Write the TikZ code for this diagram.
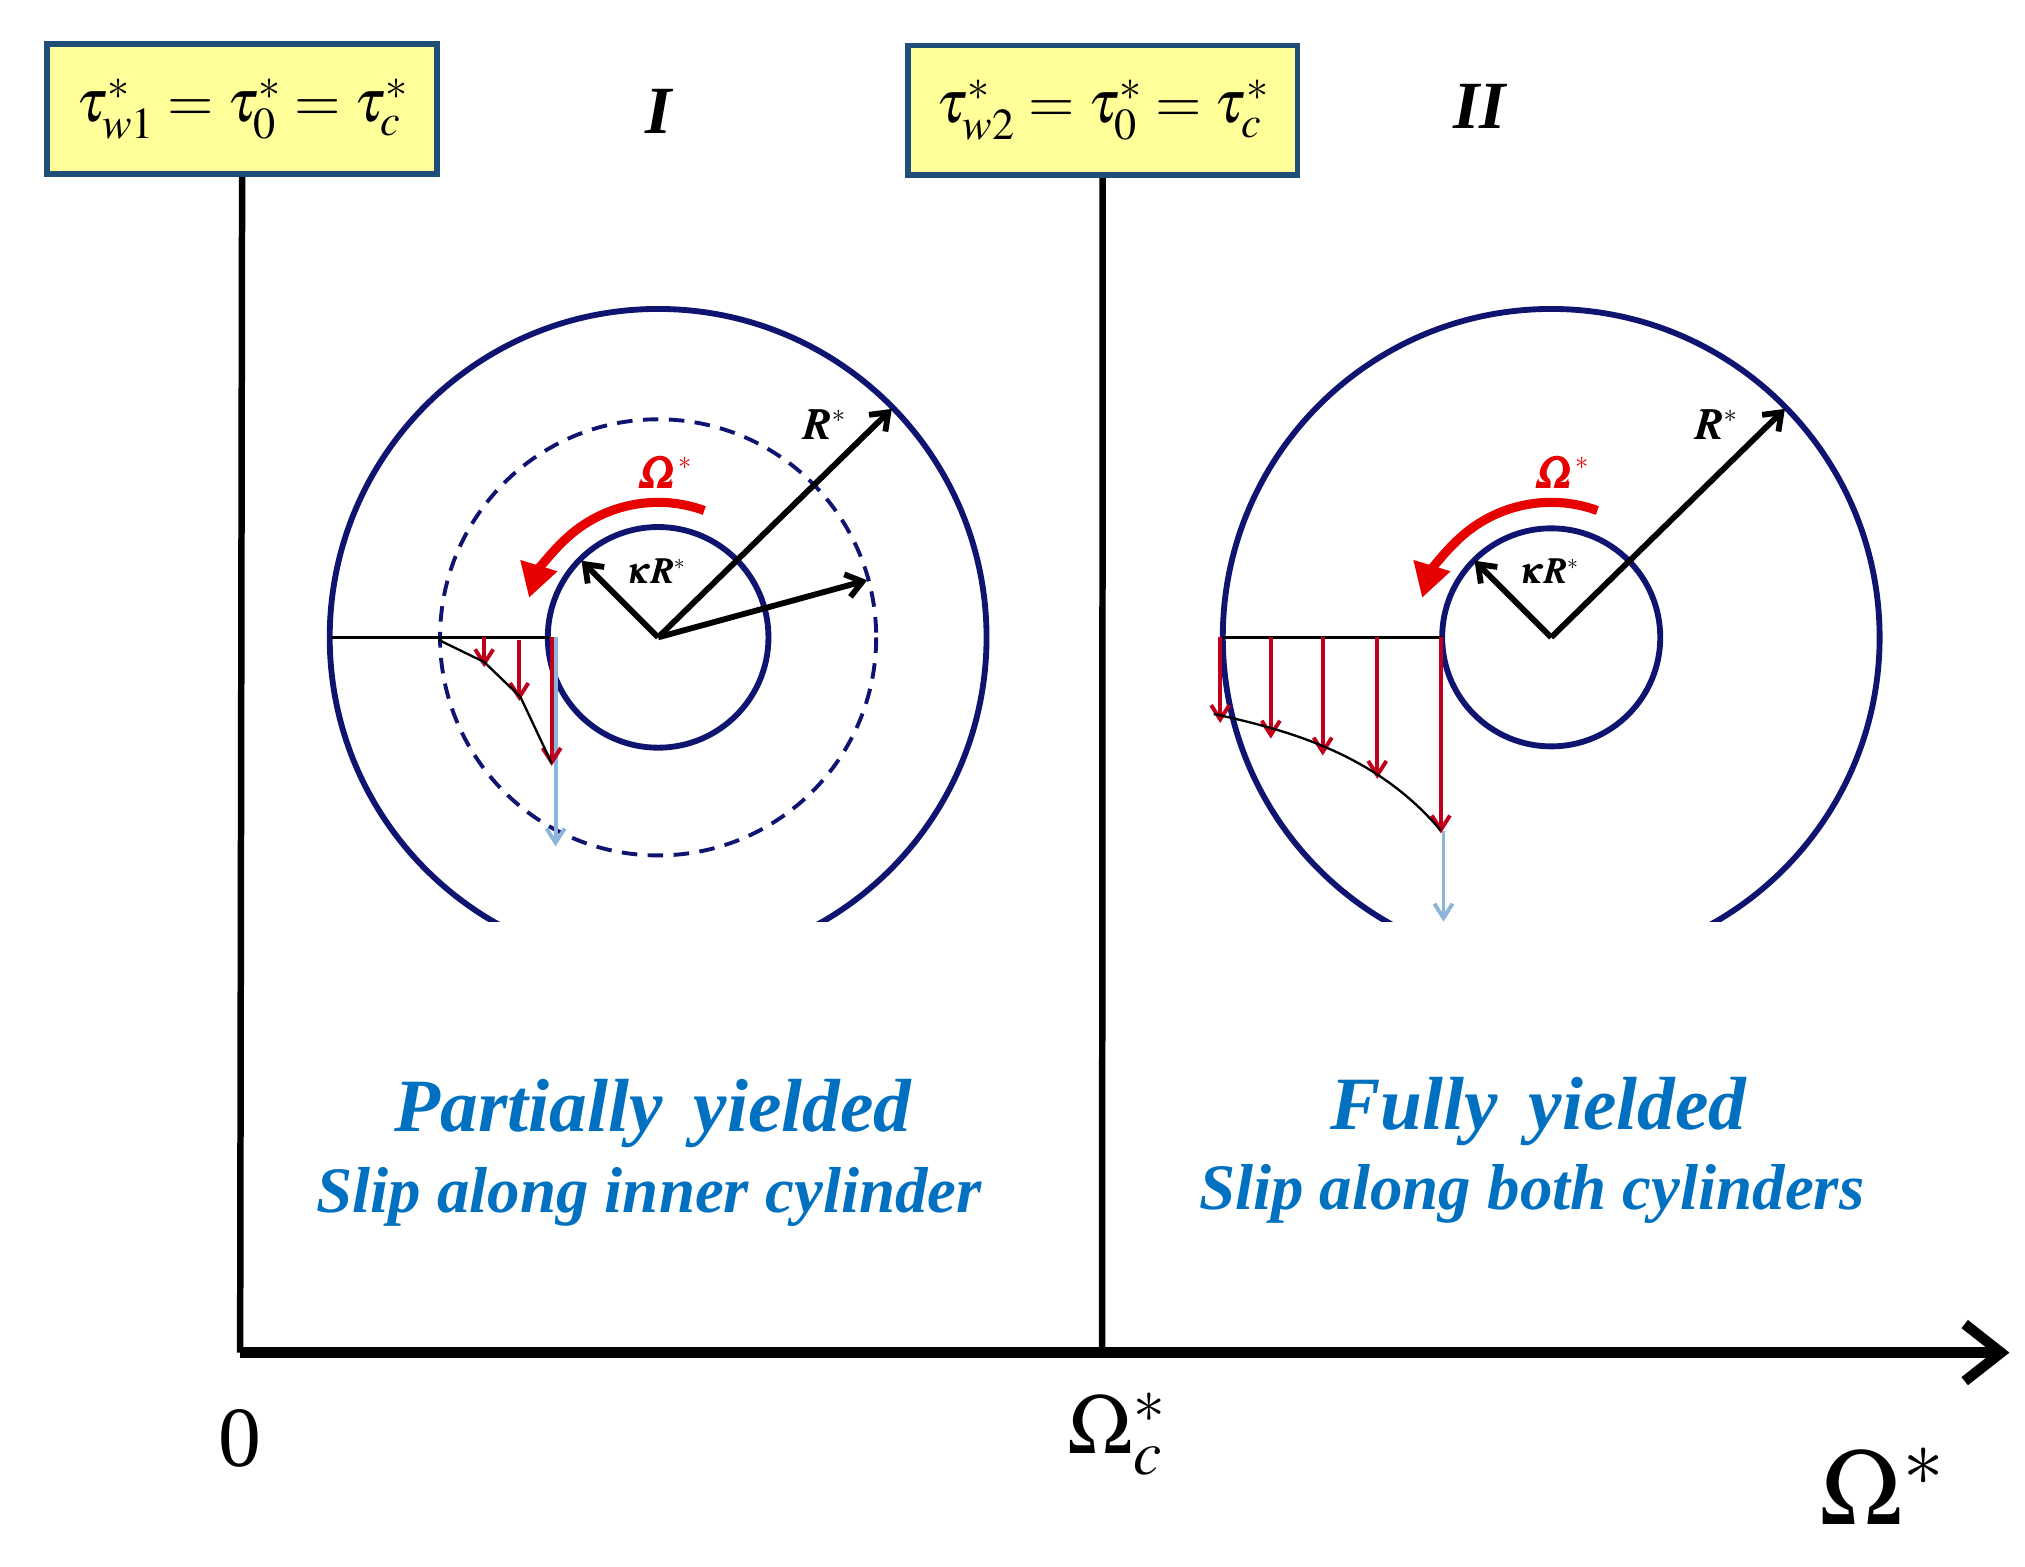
\documentclass[tikz,border=0pt]{standalone}
\usepackage{amsmath}
\usepackage{mathptmx}
\usepackage{bm}
\usepackage{fontspec}
\setmainfont{Liberation Serif}
\usetikzlibrary{arrows.meta}
\definecolor{navy}{HTML}{0F1470}
\definecolor{bxb}{HTML}{1F4E79}
\definecolor{bxf}{HTML}{FFFF99}
\definecolor{prf}{HTML}{C0001A}
\definecolor{omr}{HTML}{E60000}
\definecolor{lbl}{HTML}{8DB4DA}
\definecolor{txb}{HTML}{0070C0}
\begin{document}
\begin{tikzpicture}[x=1pt,y=-1pt,
 ring/.style={navy,line width=4.5pt},
 prof/.style={prf,line width=3pt,-{Straight Barb[length=11pt,width=14pt]}},
 blk/.style={black,line width=4.5pt,-{Straight Barb[length=12pt,width=18pt]}},
 box/.style={draw=bxb,fill=bxf,line width=4.5pt,minimum width=300pt,minimum height=100pt,inner sep=0pt,font=\fontsize{46}{46}\selectfont},
 big/.style={font=\fontsize{58}{58}\selectfont\bfseries\itshape,text=txb},
 sub/.style={font=\fontsize{50}{50}\selectfont\bfseries\itshape,text=txb},
 lab/.style={font=\fontsize{34}{34}\selectfont\itshape\bfseries}]
\useasboundingbox (0,0) rectangle (1560,1207);
% axes
\coordinate (o) at (185,1042);
\coordinate (e) at (1548,1042);
\coordinate (c1) at (849,1042);
\draw[line width=8pt,-{Straight Barb[length=28pt,width=44pt]}] (o) -- (e);
\node[box] (b1) at (186.5,84) {$\tau^*_{w1}=\tau^*_0=\tau^*_c$};
\node[box] (b2) at (849.5,85) {$\tau^*_{w2}=\tau^*_0=\tau^*_c$};
\draw[line width=5pt] (b1.south) -- (o);
\draw[line width=5pt] (b2.south) -- (c1);
\node[font=\fontsize{52}{52}\selectfont\bfseries\itshape] (r1) at (507,86) {I};
\node[font=\fontsize{52}{52}\selectfont\bfseries\itshape] (r2) at (1140,82) {II};
\node[font=\fontsize{66}{66}\selectfont] (zero) at (185,1108) {0};
\node[font=\fontsize{66}{66}\selectfont] (omc) at (860,1105) {$\Omega^*_c$};
\node[font=\fontsize{84}{84}\selectfont] (oms) at (1450,1145) {$\Omega^*$};
\node[big] (t1) at (503,858) {Partially\, yielded};
\node[sub] (s1) at (500,922) {Slip along inner cylinder};
\node[big] (t2) at (1185,856) {Fully\, yielded};
\node[sub] (s2) at (1180,920) {Slip along both cylinders};
% ---------- left
\coordinate (A) at (507,491);
\begin{scope}
\clip (0,0) rectangle (1560,710);
\draw[ring] (A) circle (253);
\end{scope}
\draw[ring] (A) circle (85);
\draw[navy,line width=3pt,dash pattern=on 12pt off 8pt] (A) circle (168);
\draw[line width=1.8pt] (255,491) -- (423,491);
\draw[lbl,line width=3pt,-{Straight Barb[length=11pt,width=14pt]}] (428,491) -- (428,652);
\draw[prof] (373,491) -- (373,514);
\draw[prof] (400,493) -- (400,540);
\draw[prof] (425,491) -- (425,590);
\draw[line width=1.8pt] (338,493) -- (373,510) -- (401,537) -- (425,588);
\coordinate (AR) at (687,315);
\coordinate (Ak) at (448,432);
\coordinate (Ad) at (668,447);
\draw[blk] (A) -- (AR);
\draw[blk] (A) -- (Ak);
\draw[blk] (A) -- (Ad);
\draw[omr,line width=7pt,-{Triangle[length=26pt,width=28pt]}] ([shift={(-70:104)}]A) arc[start angle=-70,end angle=-163,radius=104];
\node[lab] (lR1) at (635,327) {$\bm{R}^{\scriptscriptstyle *}$};
\node[lab,text=omr] (lO1) at (512,364) {$\bm{\varOmega}^{\scriptscriptstyle *}$};
\node[lab,font=\fontsize{28}{28}\selectfont] (lk1) at (505,440) {$\bm{\kappa R}^{\scriptscriptstyle *}$};
% ---------- right
\coordinate (B) at (1195,491);
\begin{scope}
\clip (0,0) rectangle (1560,710);
\draw[ring] (B) circle (253);
\end{scope}
\draw[ring] (B) circle (84);
\draw[line width=1.8pt] (942,491) -- (1111,491);
\draw[lbl,line width=3pt,-{Straight Barb[length=11pt,width=14pt]}] (1112,640) -- (1112,710);
\draw[prof] (940,491) -- (940,557);
\draw[prof] (979,491) -- (979,569);
\draw[prof] (1019,491) -- (1019,582);
\draw[prof] (1061,491) -- (1061,600);
\draw[prof] (1110,491) -- (1110,642);
\draw[line width=1.8pt] (935,550) .. controls (990,562) and (1060,580) .. (1110,640);
\coordinate (BR) at (1375,315);
\coordinate (Bk) at (1136,432);
\draw[blk] (B) -- (BR);
\draw[blk] (B) -- (Bk);
\draw[omr,line width=7pt,-{Triangle[length=26pt,width=28pt]}] ([shift={(-70:104)}]B) arc[start angle=-70,end angle=-163,radius=104];
\node[lab] (lR2) at (1322,327) {$\bm{R}^{\scriptscriptstyle *}$};
\node[lab,text=omr] (lO2) at (1203,364) {$\bm{\varOmega}^{\scriptscriptstyle *}$};
\node[lab,font=\fontsize{28}{28}\selectfont] (lk2) at (1193,440) {$\bm{\kappa R}^{\scriptscriptstyle *}$};
\end{tikzpicture}
\end{document}
